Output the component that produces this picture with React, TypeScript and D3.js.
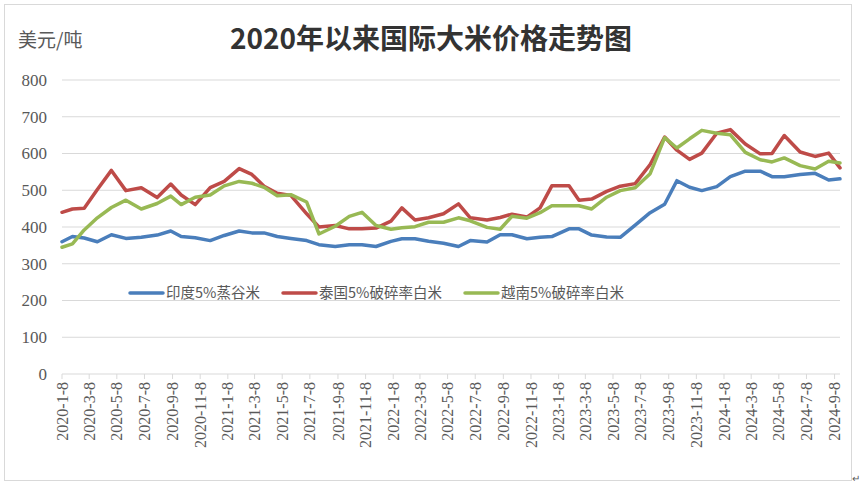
import React from 'react';
import * as d3 from 'd3';

const dates = [
  '2020-01-08', '2020-01-31', '2020-02-26', '2020-03-26', '2020-04-26', '2020-05-28',
  '2020-07-01', '2020-08-05', '2020-09-04', '2020-09-27', '2020-10-28', '2020-11-30',
  '2020-12-31', '2021-02-02', '2021-03-02', '2021-03-29', '2021-04-27', '2021-05-27',
  '2021-07-01', '2021-07-28', '2021-09-02', '2021-10-03', '2021-10-31', '2021-12-01',
  '2022-01-03', '2022-01-27', '2022-02-25', '2022-03-27', '2022-04-29', '2022-06-01',
  '2022-06-27', '2022-08-03', '2022-09-01', '2022-09-27', '2022-10-30', '2022-11-28',
  '2022-12-24', '2023-01-31', '2023-02-22', '2023-03-22', '2023-04-24', '2023-05-24',
  '2023-06-26', '2023-07-29', '2023-08-30', '2023-09-26', '2023-10-24', '2023-11-20',
  '2023-12-23', '2024-01-22', '2024-02-24', '2024-03-28', '2024-04-23', '2024-05-20',
  '2024-06-24', '2024-07-27', '2024-08-26', '2024-09-20',
];

const indiaParboiled = [
  360, 374, 370, 360, 379, 369, 372, 378, 389, 374, 371, 363,
  377, 389, 384, 384, 374, 369, 363, 352, 347, 352, 352, 347,
  361, 368, 368, 361, 356, 347, 363, 359, 379, 379, 368, 372,
  374, 395, 395, 378, 373, 372, 405, 439, 462, 526, 508, 499,
  510, 537, 552, 552, 537, 537, 543, 546, 528, 531,
];

const thaiBroken5 = [
  440, 449, 451, 502, 554, 499, 507, 480, 517, 487, 461, 507,
  524, 559, 543, 511, 492, 486, 436, 400, 404, 395, 395, 397,
  416, 452, 419, 425, 436, 463, 425, 419, 426, 435, 427, 452,
  512, 512, 473, 476, 497, 511, 518, 570, 645, 609, 584, 601,
  655, 665, 626, 599, 600, 649, 604, 592, 601, 561,
];

const vietBroken5 = [
  345, 354, 392, 425, 453, 473, 449, 464, 484, 461, 481, 487,
  512, 524, 519, 508, 485, 488, 468, 381, 402, 429, 440, 404,
  394, 398, 401, 413, 413, 425, 417, 399, 394, 429, 424, 439,
  458, 458, 458, 449, 481, 499, 507, 545, 643, 615, 640, 663,
  655, 651, 603, 583, 577, 588, 567, 558, 579, 574,
];

const yTicks = [0, 100, 200, 300, 400, 500, 600, 700, 800];

const xTickLabels = [
  '2020-1-8', '2020-3-8', '2020-5-8', '2020-7-8', '2020-9-8', '2020-11-8',
  '2021-1-8', '2021-3-8', '2021-5-8', '2021-7-8', '2021-9-8', '2021-11-8',
  '2022-1-8', '2022-3-8', '2022-5-8', '2022-7-8', '2022-9-8', '2022-11-8',
  '2023-1-8', '2023-3-8', '2023-5-8', '2023-7-8', '2023-9-8', '2023-11-8',
  '2024-1-8', '2024-3-8', '2024-5-8', '2024-7-8', '2024-9-8',
];

const seriesNames = ['印度5%蒸谷米', '泰国5%破碎率白米', '越南5%破碎率白米'];
const seriesColors = ['#4A7EBB', '#BE4B48', '#98B954'];

const titleText = '2020年以来国际大米价格走势图';
const unitText = '美元/吨';

function toDate(s: string): Date {
  const [yy, mm, dd] = s.split('-').map(Number);
  return new Date(yy, mm - 1, dd);
}

export default function App() {
  const W = 860;
  const H = 484;
  const xDates = dates.map(toDate);
  const x = d3.scaleTime().domain([xDates[0], xDates[xDates.length - 1]]).range([62, 840]);
  const y = d3.scaleLinear().domain([0, 800]).range([374, 80]);

  const series = [indiaParboiled, thaiBroken5, vietBroken5];
  const line = d3
    .line<number>()
    .x((_, i) => x(xDates[i]))
    .y((v) => y(v))
    .curve(d3.curveLinear);

  const legendX = [130, 283, 465];
  const legendY = 293;
  const serif = '"Liberation Serif", "Times New Roman", serif';
  const cjk = '"Noto Sans CJK SC", "Noto Sans", sans-serif';

  return (
    <svg
      width={W}
      height={H}
      viewBox={`0 0 ${W} ${H}`}
      style={{ position: 'absolute', left: 0, top: 0, background: '#fff' }}
    >
      <rect x={0} y={0} width={W} height={H} fill="#fff" />
      <rect x={4.5} y={4.5} width={847} height={476} fill="none" stroke="#d9d9d9" strokeWidth={1} />

      {/* title */}
      <text x={431} y={49} textAnchor="middle" fontFamily={cjk} fontWeight={700} fontSize={28} fill="#333">
        {titleText}
      </text>
      <text x={18} y={47} fontFamily={cjk} fontSize={19} fill="#595959">
        {unitText}
      </text>

      {/* gridlines */}
      {yTicks.map((t) =>
        t === 0 ? null : (
          <line key={'g' + t} x1={62} x2={840} y1={y(t)} y2={y(t)} stroke="#d9d9d9" strokeWidth={1} />
        )
      )}
      {/* y labels */}
      {yTicks.map((t) => (
        <text
          key={'yl' + t}
          x={47}
          y={y(t)}
          dy="0.35em"
          textAnchor="end"
          fontFamily={serif}
          fontSize={17}
          fill="#595959"
        >
          {t}
        </text>
      ))}

      {/* x axis */}
      <line x1={62} x2={840} y1={y(0)} y2={y(0)} stroke="#d9d9d9" strokeWidth={1} />
      {xTickLabels.map((lab) => {
        const px = x(toDate(lab));
        return (
          <g key={lab}>
            <line x1={px} x2={px} y1={y(0)} y2={y(0) + 5} stroke="#d9d9d9" strokeWidth={1} />
            <text
              transform={`translate(${px},${y(0) + 8}) rotate(-90)`}
              dy="0.35em"
              textAnchor="end"
              fontFamily={serif}
              fontSize={16}
              fill="#595959"
            >
              {lab}
            </text>
          </g>
        );
      })}

      {/* series */}
      {series.map((vals, si) => (
        <path
          key={'s' + si}
          d={line(vals) || ''}
          fill="none"
          stroke={seriesColors[si]}
          strokeWidth={3.5}
          strokeLinejoin="round"
          strokeLinecap="round"
        />
      ))}

      {/* legend */}
      {seriesNames.map((name, i) => (
        <g key={'lg' + i}>
          <line
            x1={legendX[i]}
            x2={legendX[i] + 33}
            y1={legendY}
            y2={legendY}
            stroke={seriesColors[i]}
            strokeWidth={3.5}
            strokeLinecap="round"
          />
          <text x={legendX[i] + 36} y={legendY} dy="0.35em" fontFamily={cjk} fontSize={14.5} fill="#595959">
            {name}
          </text>
        </g>
      ))}

      <text x={852} y={482} fontFamily={cjk} fontSize={10} fill="#595959">
        ↵
      </text>
    </svg>
  );
}
